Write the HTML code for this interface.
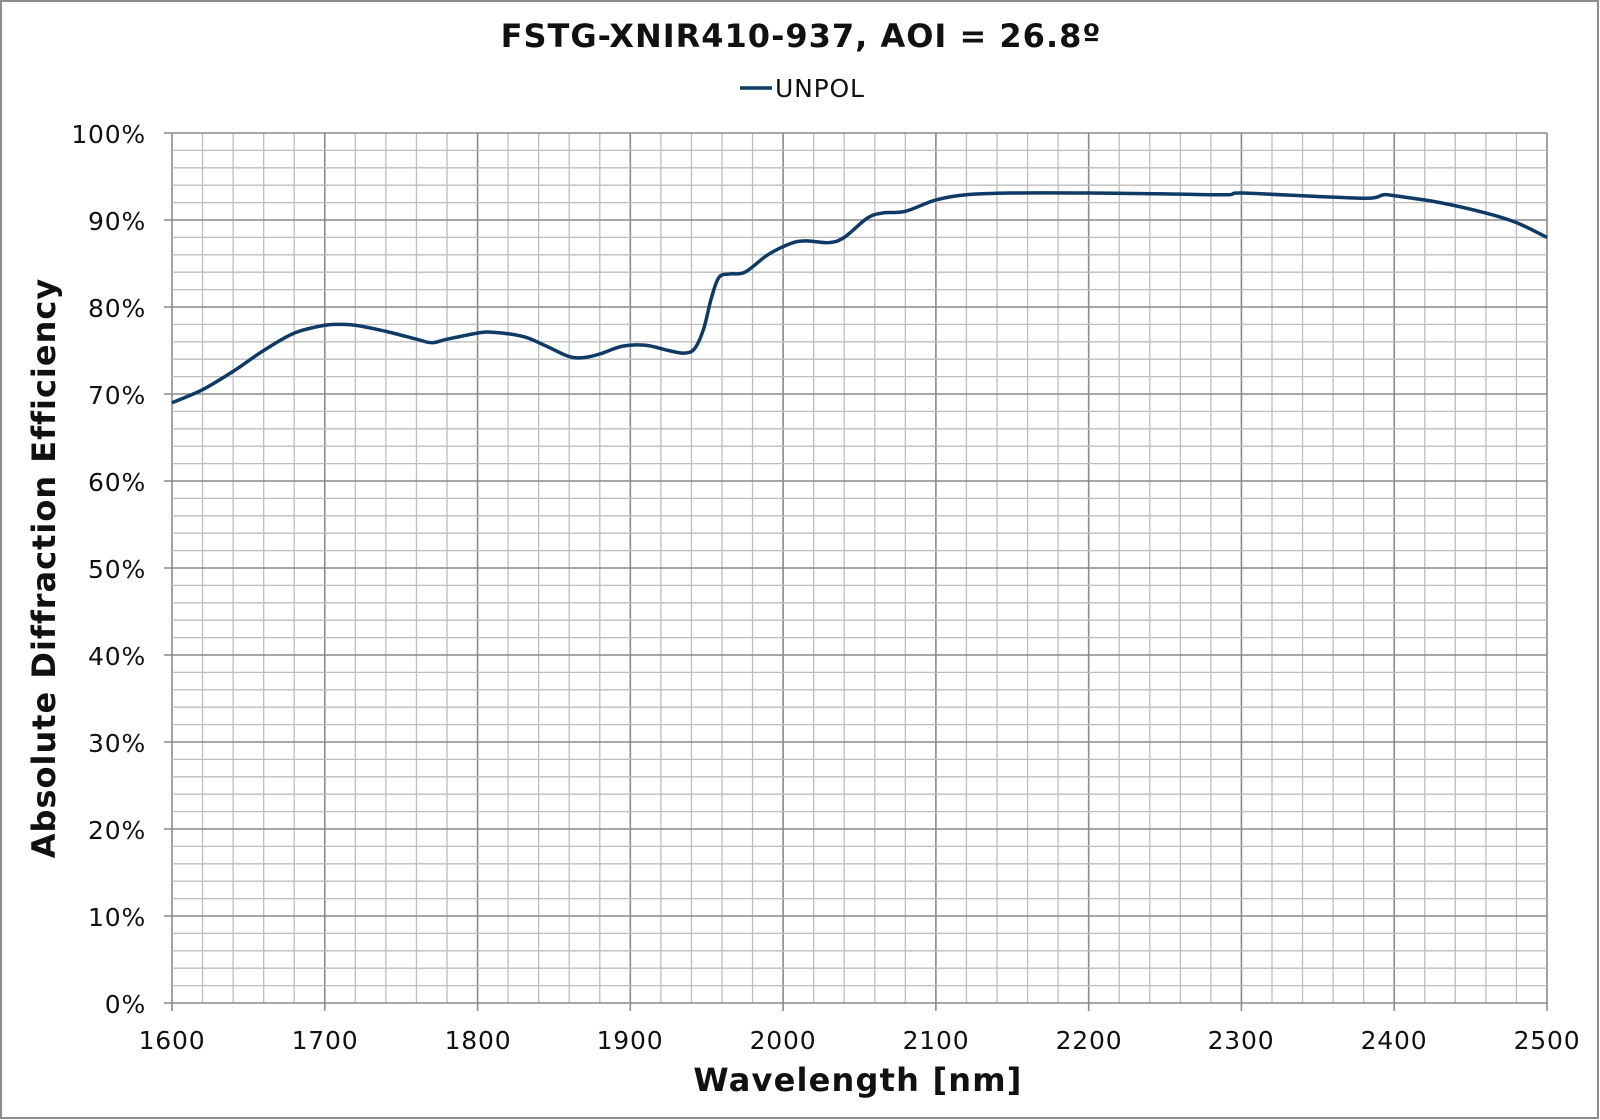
<!DOCTYPE html>
<html><head><meta charset="utf-8"><style>
html,body{margin:0;padding:0;background:#fff;}
svg{display:block;font-family:"DejaVu Sans","Liberation Sans",sans-serif;}
</style></head><body>
<svg id="s" width="1600" height="1120" xmlns="http://www.w3.org/2000/svg">
<rect x="1" y="1" width="1597" height="1117" fill="#fff" stroke="#8c8c8c" stroke-width="2"/>
<g id="grid"></g>
<text x="801" y="47" text-anchor="middle" font-size="32" font-weight="bold" fill="#111" letter-spacing="1">FSTG-XNIR410-937, AOI = 26.8º</text>
<line x1="740" y1="88" x2="772" y2="88" stroke="#0e3a66" stroke-width="3.5"/>
<text x="775" y="97" font-size="25" fill="#111" letter-spacing="0.8">UNPOL</text>
<text transform="translate(55,568) rotate(-90)" text-anchor="middle" font-size="32" font-weight="bold" fill="#111" letter-spacing="1">Absolute Diffraction Efficiency</text>
<text x="858" y="1091" text-anchor="middle" font-size="32" font-weight="bold" fill="#111" letter-spacing="1.2">Wavelength [nm]</text>
<g font-size="25" fill="#111" text-anchor="end" letter-spacing="0.8">
<text x="146" y="143">100%</text><text x="146" y="230">90%</text><text x="146" y="317">80%</text><text x="146" y="404">70%</text><text x="146" y="491">60%</text><text x="146" y="578">50%</text><text x="146" y="665">40%</text><text x="146" y="752">30%</text><text x="146" y="839">20%</text><text x="146" y="926">10%</text><text x="146" y="1013">0%</text>
</g>
<g font-size="25" fill="#111" text-anchor="middle" letter-spacing="0.8">
<text x="172" y="1049">1600</text><text x="325" y="1049">1700</text><text x="478" y="1049">1800</text><text x="630" y="1049">1900</text><text x="783" y="1049">2000</text><text x="936" y="1049">2100</text><text x="1089" y="1049">2200</text><text x="1241" y="1049">2300</text><text x="1394" y="1049">2400</text><text x="1547" y="1049">2500</text>
</g>
<path id="curve" fill="none" stroke="#0e3a66" stroke-width="3.5" stroke-linejoin="round"/>
</svg>
<script>
var L=172,R=1547,T=133,B=1003;
function X(n){return L+(n-1600)*(R-L)/900;}
function Y(p){return B-p*(B-T)/100;}
var g='';
for(var i=0;i<=45;i++){var x=L+i*(R-L)/45;var maj=i%5==0;g+='<line x1="'+x+'" y1="'+T+'" x2="'+x+'" y2="'+(maj?B+8:B)+'" stroke="'+(maj?'#8a8a8a':'#bdbdbd')+'" stroke-width="'+(maj?1.6:1.3)+'"/>';}
for(var j=0;j<=50;j++){var y=T+j*(B-T)/50;var maj=j%5==0;g+='<line x1="'+(maj?L-8:L)+'" y1="'+y+'" x2="'+R+'" y2="'+y+'" stroke="'+(maj?'#8a8a8a':'#bdbdbd')+'" stroke-width="'+(maj?1.6:1.3)+'"/>';}
document.getElementById('grid').innerHTML=g;
var d=[[1600,69],[1620,70.5],[1640,72.6],[1660,75],[1680,77],[1700,77.9],[1710,78],[1720,77.9],[1740,77.2],[1760,76.3],[1770,75.9],[1780,76.3],[1800,77],[1810,77.1],[1830,76.6],[1845,75.5],[1860,74.3],[1870,74.2],[1880,74.6],[1895,75.5],[1910,75.6],[1925,75],[1935,74.7],[1942,75.2],[1948,77.5],[1953,81],[1958,83.4],[1965,83.8],[1975,84],[1990,86],[2005,87.3],[2015,87.6],[2030,87.4],[2040,88],[2055,90.2],[2065,90.8],[2080,91],[2100,92.3],[2120,92.9],[2150,93.1],[2200,93.1],[2250,93],[2290,92.9],[2300,93.1],[2350,92.7],[2380,92.5],[2388,92.6],[2393,92.9],[2400,92.8],[2430,92],[2460,90.8],[2480,89.7],[2500,88]];
var p=d.map(function(a){return [X(a[0]),Y(a[1])];});
var s='M'+p[0][0]+','+p[0][1];
for(var k=0;k<p.length-1;k++){var p0=p[k-1]||p[k],p1=p[k],p2=p[k+1],p3=p[k+2]||p2;
s+=' C'+(p1[0]+(p2[0]-p0[0])/6)+','+(p1[1]+(p2[1]-p0[1])/6)+' '+(p2[0]-(p3[0]-p1[0])/6)+','+(p2[1]-(p3[1]-p1[1])/6)+' '+p2[0]+','+p2[1];}
document.getElementById('curve').setAttribute('d',s);
</script>
</body></html>
